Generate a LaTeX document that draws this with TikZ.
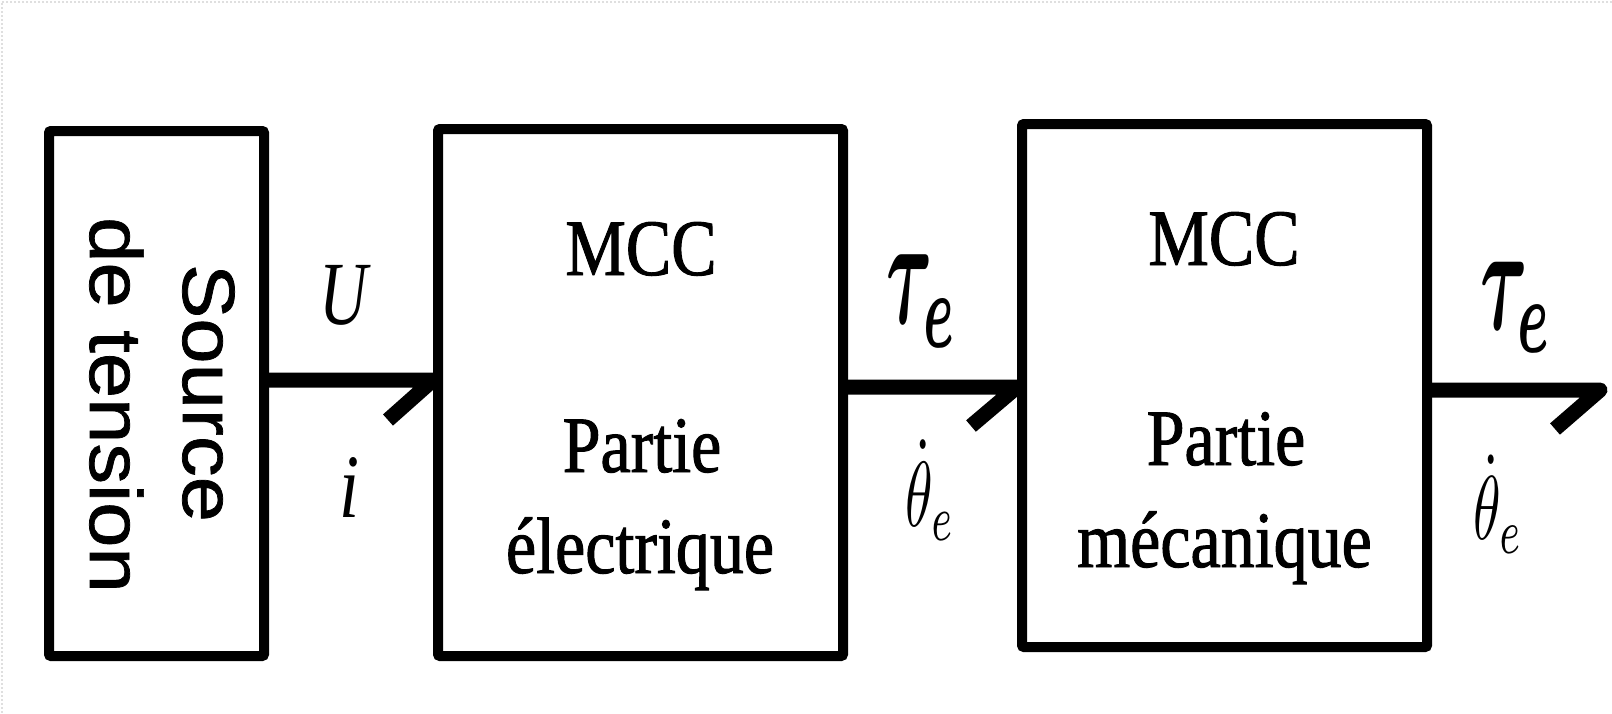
\documentclass[tikz,border=0pt]{standalone}
\usepackage{fontspec}
\usepackage{graphicx}
\usepackage{bm}
\setmainfont{Liberation Serif}
% condensed serif for the block captions, widened sans for the source label
\newfontfamily\blockfont[FakeStretch=0.85, FakeBold=1.2]{Liberation Serif}
\newfontfamily\sourcefont[FakeStretch=1.1, FakeBold=1]{Liberation Sans}

\begin{document}
\begin{tikzpicture}[x=1pt, y=-1pt,
  blk/.style={draw, line width=10pt, rounded corners=2pt, inner sep=0pt},
  bond/.style={line width=15pt, line join=round, line cap=butt},
  word/.style={font=\blockfont\fontsize{80}{96}\selectfont, anchor=base, inner sep=0pt},
  srctext/.style={font=\sourcefont\fontsize{74}{88}\selectfont, anchor=base, inner sep=0pt, rotate=-90},
  var/.style={inner sep=0pt, anchor=center}]
\useasboundingbox (0,0) rectangle (1612,713);

% faint dotted frame along the top and left edges
\draw[gray!25, dotted, line width=2pt] (1612,1.5) -- (1.5,1.5) -- (1.5,713);

% blocks
\node[blk, minimum width=215pt, minimum height=525pt] (source) at (156.5,393.5) {};
\node[blk, minimum width=405pt, minimum height=527pt] (elec) at (640.5,392.5) {};
\node[blk, minimum width=405pt, minimum height=523pt] (meca) at (1224.5,385.5) {};

% block captions
\node[srctext] (src1) at (183,393) {Source};
\node[srctext] (src2) at (90,405) {de tension};
\node[word] (elec1) at (641,275) {MCC};
\node[word] (elec2) at (642,472) {Partie};
\node[word] (elec3) at (640,573) {électrique};
\node[word] (meca1) at (1224,265) {MCC};
\node[word] (meca2) at (1226,465) {Partie};
\node[word] (meca3) at (1224.5,567) {mécanique};

% power bonds with half arrows
\coordinate (lvl1) at (0,380);
\coordinate (lvl2) at (0,387);
\coordinate (out) at (1600,390);
\draw[bond] (source.east |- lvl1) -- (elec.west |- lvl1) -- ++(-45,40);
\draw[bond] (elec.east |- lvl2) -- (meca.west |- lvl2) -- ++(-46,39);
\draw[bond] (meca.east |- out) -- (out) -- ++(-45,39);

% effort and flow variables
\node[var] (effU) at (344,295) {\resizebox*{48pt}{60pt}{\itshape U}};
\node[var] (flowI) at (349,487) {\resizebox*{20pt}{60pt}{\itshape i}};
\node[var] (tau1) at (922.5,301) {\resizebox*{71pt}{92pt}{$\bm{\tau}_{\bm{e}}$}};
\node[var] (om1) at (930,490) {\resizebox*{50pt}{100pt}{$\dot{\theta}_e$}};
\node[var] (tau2) at (1516.5,307) {\resizebox*{73pt}{90pt}{$\bm{\tau}_{\bm{e}}$}};
\node[var] (om2) at (1498,504) {\resizebox*{50pt}{98pt}{$\dot{\theta}_e$}};
\end{tikzpicture}
\end{document}
